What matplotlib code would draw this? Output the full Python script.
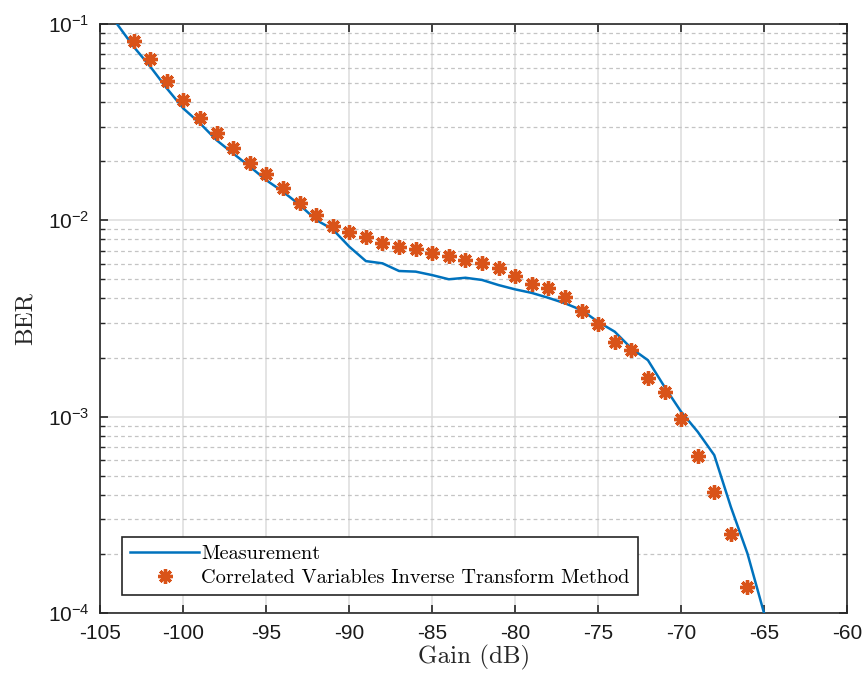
import numpy as np
import matplotlib
matplotlib.use("Agg")
from matplotlib import pyplot as plt
from matplotlib.ticker import LogLocator, NullFormatter

plt.rcParams['axes.unicode_minus'] = False
plt.rcParams['mathtext.fontset'] = 'custom'
plt.rcParams['mathtext.rm'] = 'Liberation Sans'
plt.rcParams['mathtext.it'] = 'Liberation Sans:italic'
plt.rcParams['font.family'] = ['Liberation Sans', 'DejaVu Sans']

# measurement curve (gain in dB, BER)
meas_gain = [-104, -103, -102, -101, -100, -99, -98, -97, -96, -95, -94, -93,
             -92, -91, -90, -89, -88, -87, -86, -85, -84, -83, -82, -81, -80,
             -79, -78, -77, -76, -75, -74, -73, -72, -71, -70, -69, -68, -67,
             -66, -65]
meas_ber = [0.1, 0.0766, 0.0607, 0.047, 0.0371, 0.0312, 0.0256, 0.0219, 0.0188,
            0.016, 0.014, 0.012, 0.01005, 0.0090, 0.00734, 0.0062, 0.00604,
            0.00552, 0.00548, 0.00526, 0.00501, 0.0051, 0.00497, 0.00468,
            0.00445, 0.00427, 0.00403, 0.00378, 0.00349, 0.00304, 0.00271,
            0.00223, 0.00194, 0.00142, 0.00106, 0.000838, 0.000637, 0.000347,
            0.000201, 0.0001]

# correlated variables inverse transform method
sim_gain = list(range(-103, -65))
sim_ber = [0.0817, 0.066, 0.0512, 0.041, 0.0331, 0.0277, 0.0234, 0.0197, 0.0172,
           0.0146, 0.0123, 0.0107, 0.00936, 0.00869, 0.00819, 0.00769, 0.00734,
           0.00715, 0.00685, 0.00658, 0.00628, 0.00609, 0.00569, 0.0052,
           0.00472, 0.00451, 0.00408, 0.00345, 0.00295, 0.00241, 0.00218,
           0.00157, 0.00134, 0.000968, 0.00063, 0.000414, 0.000254, 0.000136]

fig = plt.figure(figsize=(8.64, 6.8), dpi=100)
ax = fig.add_axes([0.1163, 0.0985, 0.8640, 0.8662])

ax.semilogy(meas_gain, meas_ber, color='#0072BD', lw=1.8, label='Measurement', zorder=3)
ax.semilogy(sim_gain, sim_ber, ls='none', marker=(8, 2, 0), ms=10.5, mew=2.4,
            color='#D95319', label='Correlated Variables Inverse Transform Method', zorder=4)

ax.set_xlim(-105, -60)
ax.set_ylim(1e-4, 1e-1)
ax.set_xticks(np.arange(-105, -59, 5))
ax.yaxis.set_major_locator(LogLocator(base=10, numticks=10))
ax.yaxis.set_minor_locator(LogLocator(base=10, subs=np.arange(2, 10), numticks=10))
ax.yaxis.set_minor_formatter(NullFormatter())

ax.grid(True, which='major', color='#dcdcdc', lw=1.1, ls='-')
ax.grid(True, which='minor', axis='y', color='#c4c4c4', lw=0.9, ls=(0, (3, 2.5)))
ax.set_axisbelow(True)

ax.tick_params(which='both', direction='in', top=True, right=True, colors='#262626',
               labelcolor='#1a1a1a')
ax.tick_params(which='major', length=6, width=1.2, labelsize=15, pad=8)
ax.tick_params(which='minor', length=3.5, width=1.0)
for s in ax.spines.values():
    s.set_color('#262626')
    s.set_linewidth(1.2)

ax.set_xlabel('Gain (dB)', fontfamily='cmr10', fontsize=18, color='#262626', labelpad=1)
ax.set_ylabel('BER', fontfamily='cmr10', fontsize=18, color='#262626', labelpad=8)

leg = ax.legend(loc='lower left', bbox_to_anchor=(0.029, 0.03), prop={'family': 'cmr10', 'size': 14.6},
                fancybox=False, framealpha=1, edgecolor='#262626', borderpad=0.4,
                handlelength=3.4, handletextpad=0.1, borderaxespad=0, labelspacing=0.3)
leg.get_frame().set_linewidth(1.2)

fig.savefig('out.png', dpi=100)
